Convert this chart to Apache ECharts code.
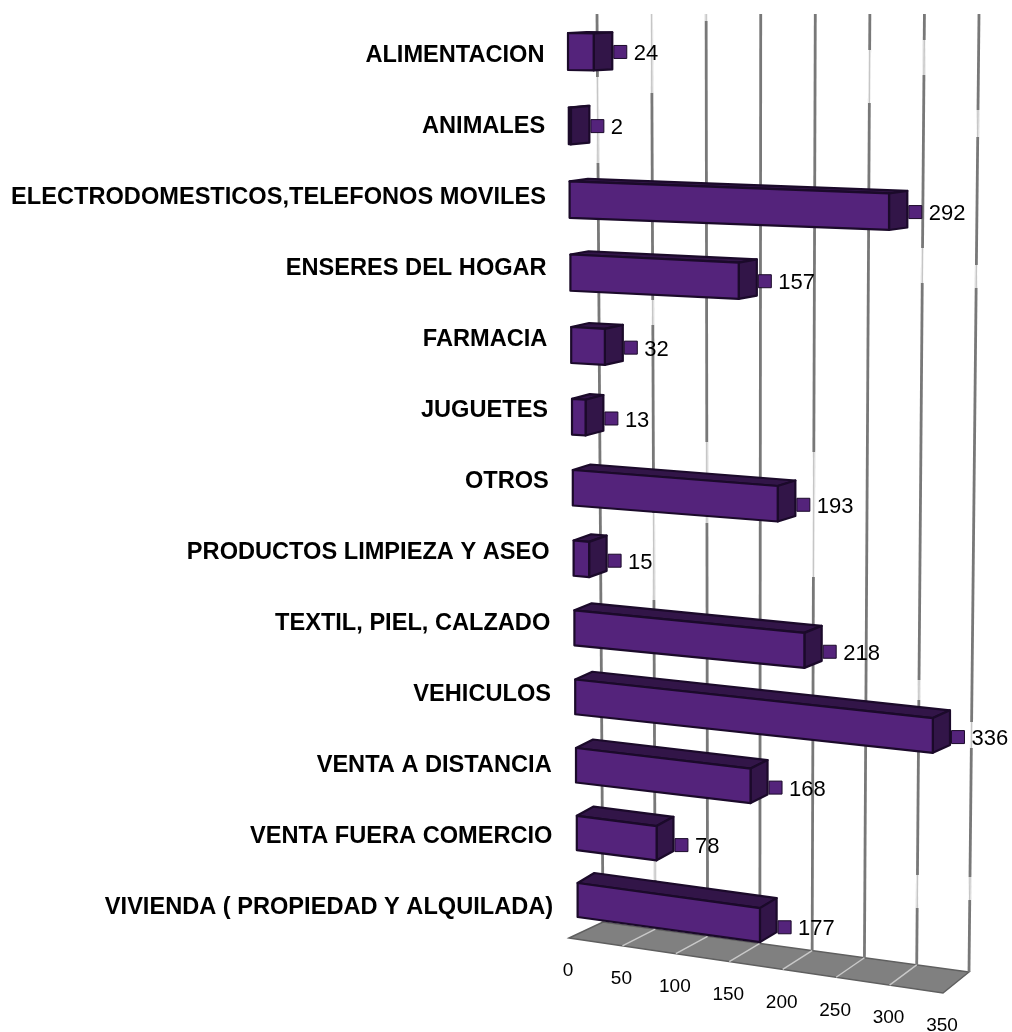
<!DOCTYPE html>
<html>
<head>
<meta charset="utf-8">
<style>html,body{margin:0;padding:0;background:#fff}#chart{width:1012px;height:1032px}</style>
<script src="https://cdn.jsdelivr.net/npm/echarts@6/dist/echarts.min.js"></script>
</head>
<body>
<div id="chart"></div>
<script>
// Chart data
const categories = [
  'ALIMENTACION', 'ANIMALES', 'ELECTRODOMESTICOS,TELEFONOS MOVILES',
  'ENSERES DEL HOGAR', 'FARMACIA', 'JUGUETES', 'OTROS',
  'PRODUCTOS LIMPIEZA Y ASEO', 'TEXTIL, PIEL, CALZADO', 'VEHICULOS',
  'VENTA A DISTANCIA', 'VENTA FUERA COMERCIO', 'VIVIENDA ( PROPIEDAD Y ALQUILADA)'
];
const values = [24, 2, 292, 157, 32, 13, 193, 15, 218, 336, 168, 78, 177];
const axisTicks = [0, 50, 100, 150, 200, 250, 300, 350];

// Grid box of the flat scales; everything below is projected from it
const GRID = { left: 568, top: 18.5, width: 385, height: 923 };
const ROW_STEP = GRID.height / categories.length;
const FONT = '"Liberation Sans", Arial, sans-serif';
const COLORS = {
  front: '#54237b', shade: '#321548', edge: '#1b0a2a',
  floor: '#808080', floorLine: '#c9c9c9',
  wallDark: '#787878', wallPale: '#c6c6c6', text: '#000'
};

// Pale stretches along each wall line, keyed by tick value
const wallPaleSpans = {
  0: [[77, 163]],
  50: [[14, 93], [300, 325], [513, 600], [860, 880]],
  100: [[14, 21], [442, 523]],
  150: [],
  200: [[452, 577]],
  250: [[50, 103]],
  300: [[40, 75], [248, 283], [680, 700], [875, 908]],
  350: [[110, 137], [265, 288], [722, 748], [877, 900]]
};

const rowOf = py => (py - GRID.top) / ROW_STEP - 0.5;
const fracOf = px => (px - GRID.left) / GRID.width;

// Oblique projection of the bars: rows drift right, tilt more and shrink going down,
// and the value scale stretches slightly toward its far end
function barFace(px, py) {
  const r = rowOf(py), f = fracOf(px);
  const u = f + 0.04 * (f * f - f);
  const w = 352 * (1.105 - 0.005 * r);
  const slope = 0.018 + 0.01 * r;
  return {
    x: 568 + 0.8 * r + u * w,
    y: 33 + 74.83 * r - 0.333 * r * r + slope * u * w,
    h: 37 - 0.25 * r,
    dx: 18.6 - 0.16 * r,
    dy: -1 - 0.75 * r,
    r
  };
}

// Floor corners and wall lines, as a function of the axis fraction
const floorFront = u => [569 + 374 * u, 938 + 55 * u];
const floorBack = u => [603 + 366 * u, 922 + 50 * u];
const wallTopX = u => 597 + 382 * u;
const WALL_TOP = 14;

function renderWall(params, api) {
  const v = api.value(0);
  const u = fracOf(api.coord([v, 0])[0]);
  const back = floorBack(u), front = floorFront(u), topX = wallTopX(u);
  const xAt = y => topX + (back[0] - topX) * (y - WALL_TOP) / (back[1] - WALL_TOP);
  const children = [{
    type: 'line',
    shape: { x1: topX, y1: WALL_TOP, x2: back[0], y2: back[1] },
    style: { stroke: COLORS.wallDark, lineWidth: 2.8 }
  }];
  (wallPaleSpans[v] || []).forEach(s => {
    children.push({
      type: 'line',
      shape: { x1: xAt(s[0]), y1: s[0], x2: xAt(s[1]), y2: s[1] },
      style: { stroke: '#fff', lineWidth: 3.4 }
    });
    children.push({
      type: 'line',
      shape: { x1: xAt(s[0]), y1: s[0], x2: xAt(s[1]), y2: s[1] },
      style: { stroke: COLORS.wallPale, lineWidth: 1.6 }
    });
  });
  if (v > 0 && v < 350) {
    children.push({
      type: 'line',
      shape: { x1: front[0], y1: front[1], x2: back[0], y2: back[1] },
      style: { stroke: COLORS.floorLine, lineWidth: 1.4 }
    });
  }
  children.push({
    type: 'text',
    style: {
      text: String(v), x: front[0] - 1, y: front[1] + 33,
      align: 'center', verticalAlign: 'middle',
      font: '19px ' + FONT, fill: COLORS.text
    }
  });
  return { type: 'group', children };
}

function renderFloor(params, api) {
  const u0 = fracOf(api.coord([0, 0])[0]), u1 = fracOf(api.coord([350, 0])[0]);
  return {
    type: 'polygon',
    shape: { points: [floorFront(u0), floorFront(u1), floorBack(u1), floorBack(u0)] },
    style: { fill: COLORS.floor, stroke: '#5f5f5f', lineWidth: 1.4 }
  };
}

function renderBar(params, api) {
  const v = api.value(0), i = api.value(1);
  const a = api.coord([0, i]), b = api.coord([v, i]);
  const s = barFace(a[0], a[1]), e = barFace(b[0], b[1]);
  const stroke = { stroke: COLORS.edge, lineWidth: 2.2, lineJoin: 'round' };
  const poly = (pts, fill) => ({
    type: 'polygon', shape: { points: pts }, style: Object.assign({ fill }, stroke)
  });
  const dx = e.dx, dy = e.dy;
  const cy = e.y + dy + 19.5 + 0.8 * e.r;
  const keyX = e.x + dx + 1.5;
  return {
    type: 'group',
    children: [
      poly([[s.x, s.y], [e.x, e.y], [e.x + dx, e.y + dy], [s.x + dx, s.y + dy]], COLORS.shade),
      poly([[e.x, e.y], [e.x + dx, e.y + dy], [e.x + dx, e.y + e.h + dy], [e.x, e.y + e.h]], COLORS.shade),
      poly([[s.x, s.y], [e.x, e.y], [e.x, e.y + e.h], [s.x, s.y + s.h]], COLORS.front),
      {
        type: 'polygon',
        shape: { points: [[keyX, cy - 6.5], [keyX + 13, cy - 6.5], [keyX + 13, cy + 6.5], [keyX, cy + 6.5]] },
        style: { fill: COLORS.front, stroke: COLORS.edge, lineWidth: 1, lineJoin: 'miter' }
      },
      {
        type: 'text',
        style: {
          text: String(v), x: keyX + 20, y: cy + 2,
          align: 'left', verticalAlign: 'middle',
          font: '22px ' + FONT, fill: COLORS.text
        }
      }
    ]
  };
}

function renderCategory(params, api) {
  const i = api.value(1);
  const p = api.coord([0, i]);
  const r = rowOf(p[1]);
  return {
    type: 'text',
    style: {
      text: categories[i], x: 544.5 + 0.72 * r, y: p[1] + 1.5,
      align: 'right', verticalAlign: 'middle',
      font: 'bold 23.6px ' + FONT, fill: COLORS.text
    }
  };
}

const chart = echarts.init(document.getElementById('chart'), null, { renderer: 'canvas' });
chart.setOption({
  animation: false,
  backgroundColor: '#fff',
  grid: Object.assign({ containLabel: false }, GRID),
  xAxis: { type: 'value', min: 0, max: 350, interval: 50, show: false },
  yAxis: { type: 'category', data: categories, inverse: true, show: false },
  series: [
    {
      type: 'custom', name: 'floor', clip: false, silent: true, z: 1,
      renderItem: renderFloor, data: [[0, 0]], encode: { x: 0, y: 1 }
    },
    {
      type: 'custom', name: 'scale', clip: false, silent: true, z: 2,
      renderItem: renderWall, data: axisTicks.map(t => [t, 0]), encode: { x: 0, y: 1 }
    },
    {
      type: 'custom', name: 'labels', clip: false, silent: true, z: 3,
      renderItem: renderCategory, data: categories.map((c, i) => [0, i]), encode: { x: 0, y: 1 }
    },
    {
      type: 'custom', name: 'values', clip: false, silent: true, z: 4,
      renderItem: renderBar, data: values.map((v, i) => [v, i]), encode: { x: 0, y: 1 }
    }
  ]
});
</script>
</body>
</html>
